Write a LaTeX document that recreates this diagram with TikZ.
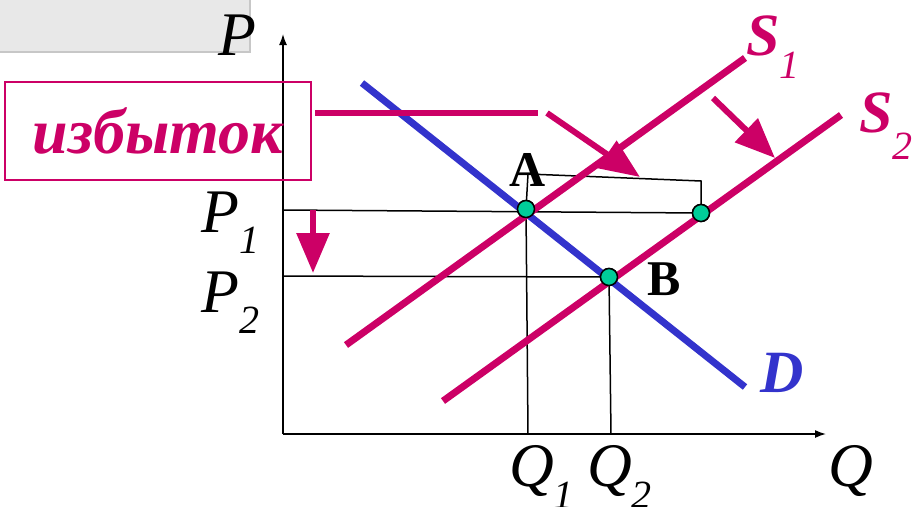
\documentclass[tikz,border=0pt]{standalone}
\usepackage{fontspec}
\setmainfont{Liberation Serif}
\usetikzlibrary{arrows.meta}
\definecolor{supplyred}{RGB}{204,0,102}
\definecolor{demandblue}{RGB}{51,51,204}
\definecolor{pointgreen}{RGB}{0,204,153}
\definecolor{boxgray}{RGB}{232,232,232}
\newcommand{\lowidx}[2]{\raisebox{-#1}{\fontsize{40}{40}\selectfont\itshape\mdseries #2}}
\begin{document}
\begin{tikzpicture}[x=1pt,y=-1pt]
    \tikzstyle{supply} = [supplyred, line width=7pt]
    \tikzstyle{demand} = [demandblue, line width=7pt]
    \tikzstyle{guide} = [line width=1.5pt]
    \tikzstyle{axis} = [line width=1.5pt, -{Latex[length=11pt,width=8pt]}]
    \tikzstyle{move} = [supplyred, line width=6pt, -{Triangle[length=40pt 0 0,width=32pt 0 0]}]
    \tikzstyle{eqpoint} = [circle, draw, line width=1.5pt, fill=pointgreen, minimum size=17pt, inner sep=0pt]
    \tikzstyle{axislabel} = [inner sep=0pt, anchor=base west, font=\fontsize{62}{62}\selectfont\itshape]
    \tikzstyle{curvelabel} = [inner sep=0pt, anchor=base west, font=\fontsize{60}{60}\selectfont\bfseries\itshape]
    \tikzstyle{pointlabel} = [inner sep=0pt, anchor=base west, font=\fontsize{50}{50}\selectfont\bfseries]

    \useasboundingbox (0,0) rectangle (912,506);
    \draw [fill=boxgray, draw=black!22, line width=1.5pt] (-5,-5) rectangle (250,52);

    \coordinate (origin) at (283,434);
    \coordinate (ytip) at (283,34);
    \coordinate (xtip) at (826,434);
    \draw [axis] (origin) -- (ytip);
    \draw [axis] (origin) -- (xtip);

    \coordinate (d1) at (362,83);
    \coordinate (d2) at (745,387);
    \coordinate (s1a) at (346,345);
    \coordinate (s1b) at (745,58);
    \coordinate (s2a) at (443,401);
    \coordinate (s2b) at (841,115);

    \node [eqpoint] (A) at (526,209) {};
    \node [eqpoint] (B) at (609,277) {};
    \node [eqpoint] (C) at (701,213) {};
    \coordinate (p1) at (283,210);
    \coordinate (p2) at (283,276);
    \coordinate (q1) at (528,434);
    \coordinate (q2) at (611,434);
    \coordinate (bra) at (528,174);
    \coordinate (brc) at (701,181);

    \draw [guide] (p1) -- (C.center);
    \draw [guide] (p2) -- (B.center);
    \draw [guide] (A.center) -- (q1);
    \draw [guide] (B.center) -- (q2);
    \draw [guide] (A.center) -- (bra) -- (brc) -- (C.center);

    \draw [demand] (d1) -- (d2);
    \draw [supply] (s1a) -- (s1b);
    \draw [supply] (s2a) -- (s2b);

    \node [eqpoint] at (A) {};
    \node [eqpoint] at (B) {};
    \node [eqpoint] at (C) {};

    \node [pointlabel] (lblA) at (509,186) {A};
    \node [pointlabel] (lblB) at (647,295) {B};

    \node [axislabel] (lblP) at (218,55) {P};
    \node [axislabel] (lblPone) at (201,232) {P\lowidx{21pt}{1}};
    \node [axislabel] (lblPtwo) at (201,312) {P\lowidx{21pt}{2}};
    \node [axislabel] (lblQone) at (509,486) {Q\lowidx{22pt}{1}};
    \node [axislabel] (lblQtwo) at (587,486) {Q\lowidx{22pt}{2}};
    \node [axislabel] (lblQ) at (828,486) {Q};

    \node [curvelabel, supplyred] (lblSone) at (746,55) {S\lowidx{23pt}{1}};
    \node [curvelabel, supplyred] (lblStwo) at (859,132) {S\lowidx{27pt}{2}};
    \node [curvelabel, demandblue] (lblD) at (760,392) {D};

    \node [draw=supplyred, line width=1.5pt, minimum width=306pt, minimum height=98pt,
           font=\fontsize{64}{64}\selectfont\bfseries\itshape, text=supplyred] (excess) at (158,131) {избыток};

    \coordinate (ex1) at (315,113);
    \coordinate (ex2) at (538,113);
    \coordinate (ex3) at (547,113);
    \coordinate (ex4) at (640,177);
    \draw [supplyred, line width=6pt] (ex1) -- (ex2);
    \draw [move] (ex3) -- (ex4);

    \coordinate (sh1) at (713,98);
    \coordinate (sh2) at (775,158);
    \draw [move] (sh1) -- (sh2);

    \coordinate (dn1) at (313,210);
    \coordinate (dn2) at (313,273);
    \draw [move] (dn1) -- (dn2);
\end{tikzpicture}
\end{document}
